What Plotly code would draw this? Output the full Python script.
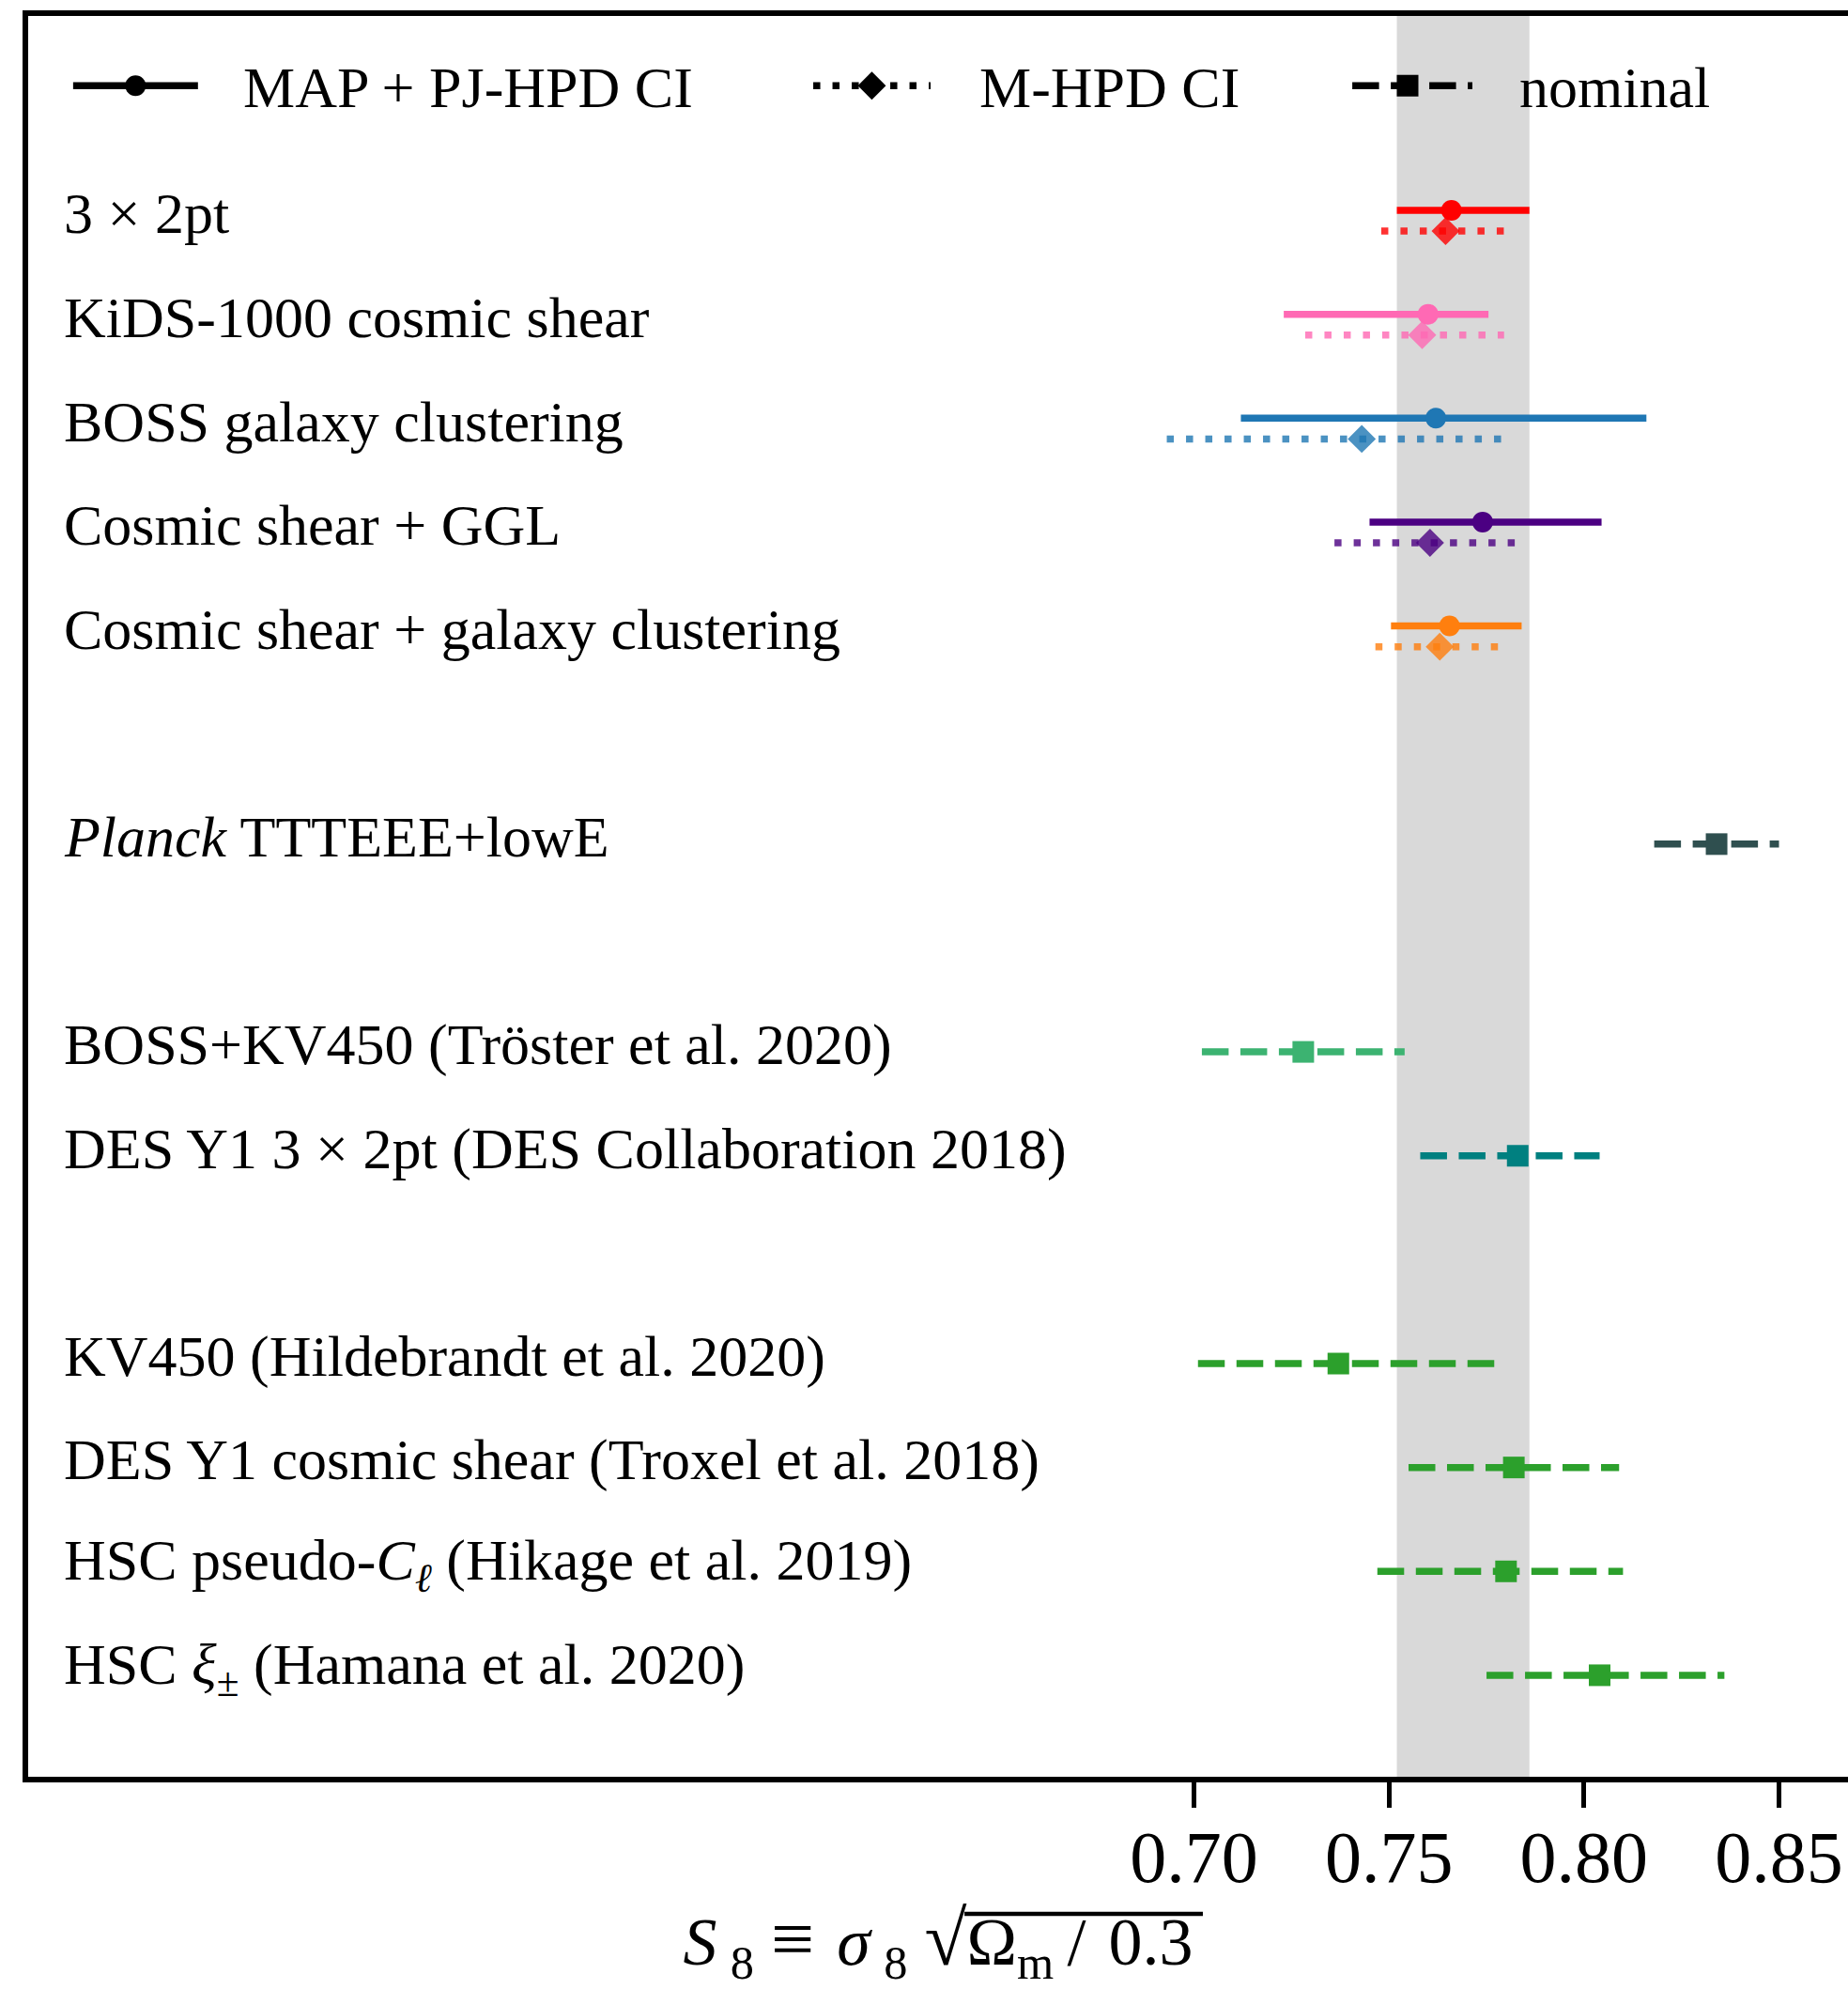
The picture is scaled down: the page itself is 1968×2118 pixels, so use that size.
import plotly.graph_objects as go

# KiDS-1000 analyses: MAP with projected joint HPD interval, and marginal mode with M-HPD interval
kids_labels = ["3 × 2pt", "KiDS-1000 cosmic shear", "BOSS galaxy clustering",
               "Cosmic shear + GGL", "Cosmic shear + galaxy clustering"]
kids_rows = [0, 1, 2, 3, 4]
kids_colors = ["#ff0000", "#ff69b4", "#1f77b4", "#4b0082", "#ff7f0e"]
map_s8 = [0.766, 0.760, 0.762, 0.774, 0.7655]
pjhpd_lo = [0.752, 0.723, 0.712, 0.745, 0.7505]
pjhpd_hi = [0.786, 0.7755, 0.816, 0.8045, 0.784]
mhpd_s8 = [0.7645, 0.7585, 0.743, 0.7605, 0.763]
mhpd_lo = [0.748, 0.7285, 0.693, 0.736, 0.7465]
mhpd_hi = [0.780, 0.7795, 0.779, 0.7825, 0.778]

# External results, nominal values
ext_labels = ["<i>Planck</i> TTTEEE+lowE",
              "BOSS+KV450 (Tröster et al. 2020)",
              "DES Y1 3 × 2pt (DES Collaboration 2018)",
              "KV450 (Hildebrandt et al. 2020)",
              "DES Y1 cosmic shear (Troxel et al. 2018)",
              "HSC pseudo-<i>C</i><sub><i>ℓ</i></sub> (Hikage et al. 2019)",
              "HSC <i>ξ</i><sub>±</sub> (Hamana et al. 2020)"]
ext_rows = [6, 8, 9, 11, 12, 13, 14]
ext_colors = ["#2f4f4f", "#3cb371", "#008080", "#2ca02c", "#2ca02c", "#2ca02c", "#2ca02c"]
nominal_s8 = [0.834, 0.728, 0.783, 0.737, 0.782, 0.780, 0.804]
nominal_lo = [0.818, 0.702, 0.758, 0.701, 0.755, 0.747, 0.775]
nominal_hi = [0.850, 0.754, 0.804, 0.777, 0.809, 0.810, 0.836]

legend_names = ["MAP + PJ-HPD CI", "M-HPD CI", "nominal"]
x_ticks = [0.70, 0.75, 0.80, 0.85]

FONT = "Liberation Serif, Times New Roman, serif"
LW = 7.5
SOLID = "solid"
DOTTED = "7.5px,13px"
DASHED = "28.5px,12.5px"
ROW_SHIFT = 0.1
LABEL_LIFT = 0.07

fig = go.Figure()


def interval(x_lo, x_hi, x_mid, y, color, dash, symbol, size, opacity=1.0,
             xaxis="x"):
    fig.add_trace(go.Scatter(
        x=[x_lo, x_hi], y=[y, y], mode="lines", xaxis=xaxis,
        line=dict(color=color, width=LW, dash=dash),
        opacity=opacity, showlegend=False, hoverinfo="skip"))
    fig.add_trace(go.Scatter(
        x=[x_mid], y=[y], mode="markers", xaxis=xaxis,
        marker=dict(color=color, size=size, symbol=symbol,
                    line=dict(width=0)),
        opacity=opacity, showlegend=False, hoverinfo="skip"))


for r, c, m, lo, hi, m2, lo2, hi2 in zip(kids_rows, kids_colors, map_s8, pjhpd_lo,
                                          pjhpd_hi, mhpd_s8, mhpd_lo, mhpd_hi):
    interval(lo, hi, m, r - ROW_SHIFT, c, SOLID, "circle", 22)
    interval(lo2, hi2, m2, r + ROW_SHIFT, c, DOTTED, "diamond", 23, opacity=0.8)

for r, c, m, lo, hi in zip(ext_rows, ext_colors, nominal_s8, nominal_lo, nominal_hi):
    interval(lo, hi, m, r, c, DASHED, "square", 23)

# Legend samples, drawn on a hidden axis spanning the plot width
legend_y = -1.30
legend_items = [
    (0.0247, 0.0933, 0.0590, 0.1171, SOLID, "circle", 22),
    (0.4314, 0.4959, 0.4636, 0.5217, DOTTED, "diamond", 23),
    (0.7276, 0.7936, 0.7580, 0.8184, DASHED, "square", 23),
]
annotations = []
for name, (a, b, mk, tx, dash, sym, sz) in zip(legend_names, legend_items):
    interval(a, b, mk, legend_y, "black", dash, sym, sz, xaxis="x2")
    annotations.append(dict(x=tx, y=legend_y + 0.02, xref="paper", yref="y",
                            text=name, showarrow=False, xanchor="left",
                            yanchor="middle",
                            font=dict(family=FONT, size=62, color="black")))

for lab, r in zip(kids_labels + ext_labels, kids_rows + ext_rows):
    annotations.append(dict(x=0.0185, y=r - LABEL_LIFT, xref="paper", yref="y",
                            text=lab, showarrow=False, xanchor="left",
                            yanchor="middle",
                            font=dict(family=FONT, size=62, color="black")))

# Shaded band: the 3x2pt MAP + PJ-HPD interval
shapes = [dict(type="rect", xref="x", yref="paper", x0=pjhpd_lo[0], x1=pjhpd_hi[0],
               y0=0, y1=1, fillcolor="#d9d9d9", line=dict(width=0), layer="below")]

# Vinculum of the square root in the axis title
shapes.append(dict(type="line", xref="paper", yref="paper",
                   x0=0.5145, x1=0.6455, y0=-0.0779, y1=-0.0779,
                   line=dict(color="black", width=4.5)))

x_title = ("<i>S</i>\u2009<sub>8</sub> <span style='font-size:82px'>≡</span>\u2004"
           "<i>σ</i>\u2009<sub>8</sub>\u2005"
           "<span style='font-size:82px'>√</span>Ω<sub>m</sub>\u2009/\u20040.3")

fig.update_layout(
    width=1968, height=2118,
    margin=dict(l=30, r=0, t=17, b=226),
    paper_bgcolor="white", plot_bgcolor="white",
    showlegend=False,
    font=dict(family=FONT, color="black"),
    annotations=annotations,
    shapes=shapes,
    xaxis=dict(range=[0.401, 0.8677], tickvals=x_ticks,
               ticktext=[f"{v:.2f}" for v in x_ticks],
               ticks="outside", ticklen=27, tickwidth=5, tickcolor="black",
               tickfont=dict(family=FONT, size=78, color="black"),
               ticklabelstandoff=-14,
               showline=True, linewidth=5.5, linecolor="black", mirror=True,
               showgrid=False, zeroline=False,
               title=dict(text=x_title,
                          font=dict(family=FONT, size=72, color="black"),
                          standoff=29)),
    xaxis2=dict(overlaying="x", range=[0, 1], visible=False, anchor="y"),
    yaxis=dict(range=[14.977, -1.971], showticklabels=False, ticks="",
               showline=True, linewidth=5.5, linecolor="black", mirror=False,
               showgrid=False, zeroline=False),
)

fig.write_html("out.html")
